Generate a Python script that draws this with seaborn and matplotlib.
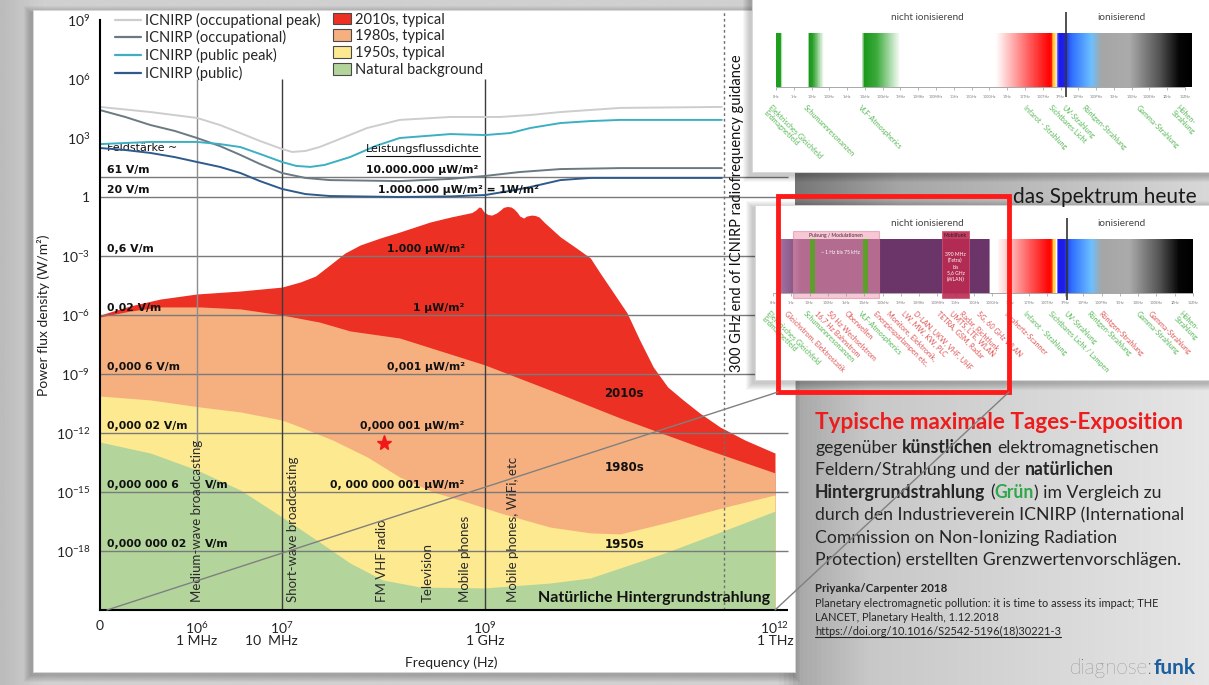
import numpy as np
import matplotlib
matplotlib.use("Agg")
import matplotlib.pyplot as plt
import seaborn as sns
import matplotlib.transforms as mtransforms
from matplotlib.colors import LinearSegmentedColormap
from matplotlib.patches import Rectangle, Patch
from matplotlib.lines import Line2D
from matplotlib.ticker import NullLocator

# ------------------------------------------------------------------ data
# x = log10(frequency in Hz), y = log10(power flux density in W/m2)
red_f = [5.00, 5.31, 5.62, 6.00, 6.51, 7.00, 7.18, 7.33, 7.47, 7.62, 7.77, 7.97, 8.16, 8.46,
         8.66, 8.87, 8.91, 8.94, 8.96, 8.99, 9.03, 9.07, 9.12, 9.16, 9.19, 9.23, 9.27, 9.30,
         9.33, 9.36, 9.40, 9.43, 9.48, 9.52, 9.56, 9.59, 9.62, 9.69, 9.78, 9.93, 10.09, 10.19,
         10.31, 10.47, 10.60, 10.74, 10.89, 11.05, 11.22, 11.43, 11.69, 12.00]
red_p = [-6.00, -5.54, -5.19, -4.93, -4.78, -4.58, -4.32, -4.02, -3.46, -2.85, -2.44, -2.08,
         -1.78, -1.27, -1.02, -0.79, -0.66, -0.51, -0.53, -0.76, -0.89, -0.92, -0.81, -0.66,
         -0.53, -0.48, -0.51, -0.61, -0.76, -0.97, -1.07, -0.97, -0.92, -0.94, -1.02, -1.17,
         -1.32, -1.63, -2.03, -2.54, -3.10, -3.86, -4.73, -5.90, -7.27, -8.64, -9.66, -10.32,
         -10.98, -11.69, -12.36, -13.02]

orange_f = [5.00, 5.31, 5.62, 6.04, 6.51, 7.00, 7.37, 7.67, 8.16, 9.00, 9.67, 10.40, 11.22, 12.00]
orange_p = [-6.10, -5.80, -5.59, -5.59, -5.69, -6.00, -6.36, -6.81, -7.17, -8.54, -9.81, -11.24,
            -12.71, -14.03]

yellow_f = [5.00, 5.52, 6.04, 6.51, 7.00, 7.18, 7.50, 7.84, 8.16, 8.49, 8.82, 9.16, 9.67, 10.09,
            10.40, 10.86, 11.49, 12.00]
yellow_p = [-10.12, -10.32, -10.68, -10.93, -11.34, -11.69, -12.36, -13.22, -14.24, -15.00,
            -15.51, -16.07, -16.78, -17.08, -17.13, -16.58, -15.76, -15.15]

green_f = [5.00, 5.52, 6.00, 6.51, 7.00, 7.34, 7.67, 7.99, 8.36, 8.99, 9.67, 10.09, 10.86,
           11.49, 12.00]
green_p = [-12.46, -13.02, -13.88, -14.90, -16.27, -17.44, -18.61, -19.47, -19.83, -19.88,
           -19.63, -19.37, -18.10, -16.93, -15.97]

occ_peak_f = [5.00, 5.52, 6.00, 6.27, 6.51, 6.74, 7.00, 7.10, 7.23, 7.37, 7.57, 7.84, 8.16,
              8.66, 9.16, 9.47, 9.78, 10.40, 11.45]
occ_peak_p = [4.58, 4.32, 4.02, 3.66, 3.25, 2.85, 2.44, 2.29, 2.34, 2.54, 2.95, 3.51, 3.92,
              4.07, 4.07, 4.17, 4.32, 4.53, 4.58]

occ_f = [5.00, 5.26, 5.52, 5.77, 6.00, 6.27, 6.51, 6.74, 7.00, 7.23, 7.47, 8.16, 8.66, 9.00,
         9.36, 9.78, 10.40, 11.45]
occ_p = [4.42, 4.07, 3.66, 3.36, 3.00, 2.59, 2.14, 1.68, 1.22, 0.97, 0.86, 0.81, 0.92, 1.07,
         1.27, 1.42, 1.47, 1.47]

pub_peak_f = [5.00, 5.52, 6.00, 6.27, 6.51, 6.74, 7.00, 7.14, 7.28, 7.42, 7.67, 7.92, 8.16,
              8.66, 9.00, 9.26, 9.47, 9.78, 10.09, 10.40, 11.45]
pub_peak_p = [2.69, 2.80, 2.80, 2.69, 2.54, 2.19, 1.78, 1.58, 1.53, 1.63, 2.03, 2.59, 3.00,
              3.20, 3.15, 3.25, 3.51, 3.76, 3.86, 3.92, 3.92]

pub_f = [5.00, 5.26, 5.52, 5.77, 6.00, 6.27, 6.51, 6.74, 7.00, 7.23, 7.47, 8.16, 8.66, 9.00,
         9.26, 9.47, 9.78, 10.09, 11.45]
pub_p = [2.49, 2.39, 2.24, 2.03, 1.78, 1.53, 1.22, 0.81, 0.41, 0.15, 0.05, 0.00, 0.03, 0.10,
         0.31, 0.51, 0.86, 0.97, 0.97]

star_f = [8.00]
star_p = [-12.51]

levels = [1, 0, -3, -6, -9, -12, -15, -18]
field_labels = ["61 V/m", "20 V/m", "0,6 V/m", "0,02 V/m", "0,000 6 V/m", "0,000 02 V/m",
                "0,000 000 6", "0,000 000 02"]
field_units = ["", "", "", "", "", "", "V/m", "V/m"]
flux_labels = ["10.000.000 µW/m²", "1.000.000 µW/m² = 1W/m²", "1.000 µW/m²", "1 µW/m²",
               "0,001 µW/m²", "0,000 001 µW/m²", "0, 000 000 001 µW/m²", ""]

band_names = ["Medium-wave broadcasting", "Short-wave broadcasting", "FM VHF radio",
              "Television", "Mobile phones", "Mobile phones, WiFi, etc"]
band_f = [6.00, 7.11, 7.99, 8.44, 8.80, 9.29]

xtick_f = [5, 6, 7, 9, 12]
xtick_labels = ["0", "$10^{6}$", "$10^{7}$", "$10^{9}$", "$10^{12}$"]
xunit_f = [6.00, 6.88, 9.00, 12.00]
xunit_labels = ["1 MHz", "10  MHz", "1 GHz", "1 THz"]
ytick_exp = [9, 6, 3, 0, -3, -6, -9, -12, -15, -18]

line_names = ["ICNIRP (occupational peak)", "ICNIRP (occupational)", "ICNIRP (public peak)",
              "ICNIRP (public)"]
line_colors = ["#cdcdcd", "#6b7a82", "#3cb0c2", "#2e5b8c"]
fill_names = ["2010s, typical", "1980s, typical", "1950s, typical", "Natural background"]
fill_colors = ["#ec3024", "#f6b07f", "#fde990", "#b3d49b"]

spec_ticks = ["0Hz", "1Hz", "10Hz", "100Hz", "1kHz", "10kHz", "100kHz", "1MHz", "10MHz",
              "100MHz", "1GHz", "10GHz", "100GHz", "1THz", "10THz", "100THz", "1PHz", "10PHz",
              "100PHz", "1EHz", "10EHz", "100EHz", "1ZHz", "10ZHz"]
top_names = ["Elektrisches Gleichfeld\nErdmagnetfeld", "Schumannresonanzen", "VLF-Atmospherics",
             "Infarot - Strahlung", "Sichtbares Licht", "UV-Strahlung", "Röntgen-Strahlung",
             "Gamma-Strahlung", "Höhen-\nStrahlung"]
top_x = [772, 807, 862, 1027, 1052, 1065, 1085, 1140, 1180]
low_names = ["Elektrisches Gleichfeld\nErdmagnetfeld", "Gleichstrom, Elektrostatik",
             "Schumannresonanzen", "16,7 Hz Bahnstrom", "50 Hz Wechselstrom", "Oberwellen",
             "VLF-Atmospherics", "Energiesparlampen etc.", "Monitore, Elektronik,",
             "LW, MW, KW, PLC", "D-LAN, UKW, VHF, UHF", "TETRA, GSM, Radar", "UMTS, LTE, WLAN",
             "Radar, Richtfunk", "5G, 60 GHz WLAN", "Terahertz-Scanner", "Infarot - Strahlung",
             "Sichtbares Licht / Lampen", "UV-Strahlung", "Röntgen-Strahlung", "Röntgen-Strahlung",
             "Gamma-Strahlung", "Gamma-Strahlung", "Höhen-\nStrahlung"]
low_x = [770, 788, 807, 818, 830, 848, 862, 877, 890, 905, 917, 940, 953, 963, 980, 1007, 1027,
         1052, 1067, 1090, 1102, 1140, 1152, 1183]
low_green = [1, 0, 1, 0, 0, 0, 1, 0, 0, 0, 0, 0, 0, 0, 0, 0, 1, 1, 1, 1, 0, 1, 0, 1]

# ------------------------------------------------------------------ style
sns.set_theme(style="white")
plt.rcParams["font.family"] = ["Lato", "DejaVu Sans"]
plt.rcParams["mathtext.fontset"] = "custom"
plt.rcParams["mathtext.rm"] = "Lato"
plt.rcParams["mathtext.it"] = "Lato:italic"
plt.rcParams["mathtext.bf"] = "Lato:bold"

W, H = 1209, 685
fig = plt.figure(figsize=(W / 100, H / 100), dpi=100)
fig.patch.set_facecolor("#d4d4d4")


def box(x0, y0, x1, y1):
    return [x0 / W, 1 - y1 / H, (x1 - x0) / W, (y1 - y0) / H]


bg = fig.add_axes([0, 0, 1, 1], zorder=0)
ax = fig.add_axes(box(100, 20, 775, 610), zorder=1)
ov = fig.add_axes([0, 0, 1, 1], zorder=2)
for a in (bg, ov):
    a.set_axis_off()


def ramp(a, x0, x1, y0, y1, stops, z):
    pos = [(p - x0) / (x1 - x0) for p, _ in stops]
    cm = LinearSegmentedColormap.from_list("r", list(zip(pos, [c for _, c in stops])))
    a.imshow(np.linspace(0, 1, 1200)[None, :], extent=[x0, x1, y1, y0], cmap=cm,
             aspect="auto", interpolation="bilinear", zorder=z)


def card(a, x0, y0, x1, y1, z):
    for i in range(1, 8):
        a.add_patch(Rectangle((x0 - i - 2, y0 - i + 3), x1 - x0 + 2 * i, y1 - y0 + 2 * i,
                              fc="black", ec="none", alpha=0.03, zorder=z))
    a.add_patch(Rectangle((x0, y0), x1 - x0, y1 - y0, fc="white", ec="#d8d8d8", lw=0.6,
                          zorder=z + 0.1))


# slide background and cards
ramp(bg, 0, W, 0, H, [(0, "#bcbcbc"), (40, "#d0d0d0"), (780, "#d0d0d0"), (800, "#a9a9a9"),
                      (870, "#c8c8c8"), (W, "#e6e6e6")], 0)
card(bg, 33, 10, 795, 672, 1)
bg.set_xlim(0, W)
bg.set_ylim(H, 0)

# ------------------------------------------------------------------ main chart
lf_knots = [4, 5, 6, 7, 9, 12, 13]
px_knots = [-97, 0, 97, 182, 385, 675, 772]
ax.set_xscale("function", functions=(lambda v: np.interp(v, lf_knots, px_knots),
                                     lambda v: np.interp(v, px_knots, lf_knots)))
ax.set_yscale("log")
ax.set_xlim(5, 12)
ax.set_ylim(1e-21, 1e9)
ax.set_facecolor("none")

for f, p, c in [(red_f, red_p, fill_colors[0]), (orange_f, orange_p, fill_colors[1]),
                (yellow_f, yellow_p, fill_colors[2]), (green_f, green_p, fill_colors[3])]:
    ax.fill_between(f, 1e-21, 10.0 ** np.array(p), color=c, lw=0, zorder=1)

ax.hlines(10.0 ** np.array(levels), 5, 12.13, colors="#7a7a7a", lw=1, clip_on=False, zorder=3)
ax.hlines(1e-21, 12, 12.13, colors="black", lw=1.5, clip_on=False, zorder=5)
ax.vlines(6, 10 ** -12.7, 1e6, colors="#8c8c8c", lw=1, zorder=3)
ax.vlines([7, 9], 1e-21, 1e6, colors="#3c3c3c", lw=1, zorder=3)
ax.vlines(np.log10(3e11), 1e-21, 10 ** 9.4, colors="#707070", lw=1, linestyles=(0, (2, 2)),
          clip_on=False, zorder=3)

for f, p, c in zip([occ_peak_f, occ_f, pub_peak_f, pub_f],
                   [occ_peak_p, occ_p, pub_peak_p, pub_p], line_colors):
    sns.lineplot(x=f, y=10.0 ** np.array(p), ax=ax, color=c, lw=1.4, sort=False,
                 estimator=None, legend=False, zorder=4)

ax.plot(star_f, 10.0 ** np.array(star_p), ls="none", marker="*", color="#f01818", ms=11,
        zorder=6)

bold = dict(family="DejaVu Sans", fontweight="bold", fontsize=7.8, color="#111111", zorder=6)
for lv, lab, unit in zip(levels, field_labels, field_units):
    ax.text(5.07, 10 ** (lv + 0.12), lab, ha="left", va="bottom", **bold)
    if unit:
        ax.text(6.09, 10 ** (lv + 0.12), unit, ha="left", va="bottom", **bold)
for lv, lab in zip(levels, flux_labels):
    if lab.startswith("1.000.000"):
        ax.text(7.95, 10 ** (lv + 0.12), lab, ha="left", va="bottom", **bold)
    elif lab.startswith("10.000"):
        ax.text(8.93, 10 ** (lv + 0.12), lab, ha="right", va="bottom", **bold)
    elif lab:
        ax.text(8.80, 10 ** (lv + 0.12), lab, ha="right", va="bottom", **bold)
ax.text(5.07, 10 ** 2.5, "Feldstärke ~", ha="left", va="center", family="DejaVu Sans",
        fontsize=8, color="#111111")

era = dict(family="DejaVu Sans", fontweight="bold", fontsize=8.5, color="#111111",
           ha="center", va="center", zorder=6)
ax.text(10.44, 10 ** -9.97, "2010s", **era)
ax.text(10.44, 10 ** -13.73, "1980s", **era)
ax.text(10.44, 10 ** -17.69, "1950s", **era)
ax.text(11.95, 10 ** -20.39, "Natürliche Hintergrundstrahlung", ha="right", va="center",
        fontsize=11.5, fontweight="bold", color="#111111", zorder=6)

for f, name in zip(band_f, band_names):
    ax.text(f, 10 ** -20.6, name, rotation=90, ha="center", va="bottom", fontsize=9.5,
            color="#2a2a2a", zorder=6)
ax.text(11.61, 10 ** -8.9, "300 GHz end of ICNIRP radiofrequency guidance", rotation=90,
        ha="center", va="bottom", fontsize=10.5, color="#111111", zorder=6)

ax.set_xticks(xtick_f, xtick_labels)
ax.xaxis.set_minor_locator(NullLocator())
ax.set_yticks(10.0 ** np.array(ytick_exp),
              ["1" if e == 0 else "$10^{%d}$" % e for e in ytick_exp])
ax.yaxis.set_minor_locator(NullLocator())
ax.tick_params(axis="both", direction="out", length=5, width=1, color="black",
               labelsize=10, pad=2, labelcolor="#222222")
trans = mtransforms.blended_transform_factory(ax.transData, ax.transAxes)
for f, lab in zip(xunit_f, xunit_labels):
    ax.text(f, -0.052, lab, transform=trans, ha="center", va="center", fontsize=10,
            color="#222222")
ax.text(0.52, -0.09, "Frequency (Hz)", transform=ax.transAxes, ha="center", va="center",
        fontsize=10, color="#222222")
ax.set_ylabel("Power flux density (W/m²)", fontsize=10, color="#222222", labelpad=4)
for s in ("top", "right"):
    ax.spines[s].set_visible(False)
for s in ("left", "bottom"):
    ax.spines[s].set_color("black")
    ax.spines[s].set_linewidth(1.5)
    ax.spines[s].set_zorder(5)

leg_kw = dict(loc="upper left", frameon=False, fontsize=10.5, handletextpad=0.3,
              labelspacing=0.19, borderaxespad=0, borderpad=0)
leg1 = ax.legend([Line2D([], [], color=c, lw=1.6) for c in line_colors], line_names,
                 bbox_to_anchor=(0.022, 1.0126), handlelength=1.8, **leg_kw)
ax.add_artist(leg1)
ax.legend([Patch(fc=c, ec="#4a4a4a", lw=0.8) for c in fill_colors], fill_names,
          bbox_to_anchor=(0.345, 1.0126), handlelength=1.25, handleheight=0.85, **leg_kw)

# ------------------------------------------------------------------ right side
ramp(ov, 795, W, 172, 206, [(795, "#777777"), (900, "#a6a6a6"), (W, "#d8d8d8")], 1)
card(ov, 752, -5, 1215, 172, 2)
card(ov, 755, 205, 1215, 380, 2)

tail = [(1030, "#ff5a5a"), (1050, "#ff0000"), (1052, "#ff2000"), (1053.5, "#ffd24a"),
        (1056, "#ffd24a"), (1057, "#ffffff"), (1058.5, "#1a1aff"), (1064, "#1e1ee0"),
        (1072, "#2f6fff"), (1092, "#6cc0ff"), (1102, "#a6a6a6"), (1130, "#ababab"),
        (1160, "#555555"), (1180, "#060606")]
ramp(ov, 776, 1192, 33, 87,
     [(776, "#1e9e1e"), (780, "#1e9e1e"), (781, "#ffffff"), (807, "#ffffff"), (808, "#1a961a"),
      (812, "#2aa12a"), (823, "#ffffff"), (862, "#ffffff"), (863, "#1a961a"), (876, "#3aaa3a"),
      (900, "#ffffff"), (996, "#ffffff")] + tail + [(1192, "#000000")], 3)
ramp(ov, 780, 1193, 239, 293,
     [(780, "#a070a0"), (792, "#8a5a8a"), (800, "#6b3569"), (989, "#6b3569"), (990.5, "#ffffff"),
      (997, "#ffffff")] + tail + [(1193, "#000000")], 3)

ov.add_patch(Rectangle((793, 231), 86, 67, fc="#f09ab2", ec="#e07d98", lw=0.8, alpha=0.55,
                       zorder=4))
for gx in (810, 863):
    ov.add_patch(Rectangle((gx, 239), 5, 54, fc="#5d9f2a", ec="none", zorder=4.5))
ov.add_patch(Rectangle((942, 231), 27, 67, fc="#bb2a52", ec="#d05070", lw=0.6, alpha=0.9,
                       zorder=4.6))
ov.text(836, 235, "Pulsung / Modulationen", fontsize=3.6, color="#4a2030", ha="center",
        va="center", zorder=5)
ov.text(840, 252, "~ 1 Hz bis 75 kHz", fontsize=3.6, color="white", ha="center", va="center",
        zorder=5)
ov.text(955.5, 235, "Mobilfunk", fontsize=3.6, color="#3a1020", ha="center", va="center",
        zorder=5)
ov.text(955.5, 267, "390 MHz\n(Tetra)\nbis\n5,6 GHz\n(WLAN)", fontsize=3.6, color="white",
        ha="center", va="center", linespacing=1.25, zorder=5)

for y0, xa, xb in ((87, 776, 1185), (293, 773, 1193)):
    tx = np.linspace(xa, xb, len(spec_ticks))
    ov.hlines(y0, xa, xb, colors="#9a9a9a", lw=0.6, zorder=4)
    ov.vlines(tx, y0, y0 + 3, colors="#9a9a9a", lw=0.5, zorder=4)
    for x, lab in zip(tx, spec_ticks):
        ov.text(x, y0 + 10, lab, fontsize=2.6, color="#777777", ha="center", va="center",
                zorder=4)
ov.vlines(1066, 12, 97, colors="#333333", lw=1.2, zorder=5)
ov.vlines(1067, 218, 300, colors="#333333", lw=1.2, zorder=5)
for yy in (17, 223):
    ov.text(927, yy, "nicht ionisierend", fontsize=7.2, color="#444444", ha="center",
            va="center", zorder=5)
    ov.text(1122, yy, "ionisierend", fontsize=7.2, color="#444444", ha="center", va="center",
            zorder=5)
for x, lab in zip(top_x, top_names):
    ov.text(x, 104, lab, fontsize=5.2, color="#55b855", rotation=-45, rotation_mode="anchor",
            ha="left", va="top", linespacing=1.0, zorder=5)
for x, lab, g in zip(low_x, low_names, low_green):
    ov.text(x, 310, lab, fontsize=5.2, color="#55b855" if g else "#e05555", rotation=-45,
            rotation_mode="anchor", ha="left", va="top", linespacing=1.0, zorder=5)

ov.add_patch(Rectangle((778, 196), 231, 196, fc="none", ec="#ff1a1a", lw=3.5, zorder=7))
ov.plot([107, 778], [610, 392], color="#808080", lw=1, zorder=8)
ov.plot([1009, 775], [392, 610], color="#808080", lw=1, zorder=8)
ov.text(1013, 197, "das Spektrum heute", fontsize=15, color="#1a1a1a", ha="left",
        va="center", zorder=6)

renderer = fig.canvas.get_renderer()


def width(s, size, weight):
    t = ov.text(0, 0, s, fontsize=size, fontweight=weight)
    w = t.get_window_extent(renderer).width
    t.remove()
    return w


def rich(x, y, parts, size, underline=False):
    x_start = x
    for s, weight, color in parts:
        sp = width("a a", size, weight) - width("aa", size, weight)
        core = s.strip(" ")
        x += (len(s) - len(s.lstrip(" "))) * sp
        t = ov.text(x, y, core, fontsize=size, fontweight=weight, color=color, ha="left",
                    va="baseline", zorder=6)
        x += t.get_window_extent(renderer).width + (len(s) - len(s.rstrip(" "))) * sp
    if underline:
        ov.plot([x_start, x], [y + 2, y + 2], color="#222222", lw=0.8, zorder=6)


DARK = "#262626"
rich(815, 429, [("Typische maximale Tages-Exposition", "bold", "#ee1c1c")], 16.2)
body = [
    [("gegenüber ", "normal", DARK), ("künstlichen", "bold", DARK),
     (" elektromagnetischen", "normal", DARK)],
    [("Feldern/Strahlung und der ", "normal", DARK), ("natürlichen", "bold", DARK)],
    [("Hintergrundstrahlung", "bold", DARK), (" (", "normal", DARK),
     ("Grün", "bold", "#2ea84a"), (") im Vergleich zu", "normal", DARK)],
    [("durch den Industrieverein ICNIRP (International", "normal", DARK)],
    [("Commission on Non-Ionizing Radiation", "normal", DARK)],
    [("Protection) erstellten Grenzwertenvorschlägen.", "normal", DARK)],
]
for i, parts in enumerate(body):
    rich(815, 453 + i * 22.4, parts, 12.7)
rich(815, 592, [("Priyanka/Carpenter 2018", "bold", DARK)], 8.3)
rich(815, 607, [("Planetary electromagnetic pollution: it is time to assess its impact; THE",
                 "normal", DARK)], 7.9)
rich(815, 621, [("LANCET, Planetary Health, 1.12.2018", "normal", DARK)], 7.9)
rich(815, 635, [("https://doi.org/10.1016/S2542-5196(18)30221-3", "normal", DARK)], 7.9,
     underline=True)
rich(1070, 674, [("diagnose:", "light", "#5c5c5c"), ("funk", "bold", "#1d5f9e")], 15)

# underlined heading inside the chart
t = ov.text(423, 149, "Leistungsflussdichte", fontsize=8, family="DejaVu Sans",
            color="#111111", ha="center", va="center", zorder=6)
bb = t.get_window_extent(renderer)
ov.plot([423 - bb.width / 2, 423 + bb.width / 2], [155.5, 155.5], color="#111111", lw=0.8,
        zorder=6)

ov.set_xlim(0, W)
ov.set_ylim(H, 0)

fig.savefig("out.png", dpi=100)
